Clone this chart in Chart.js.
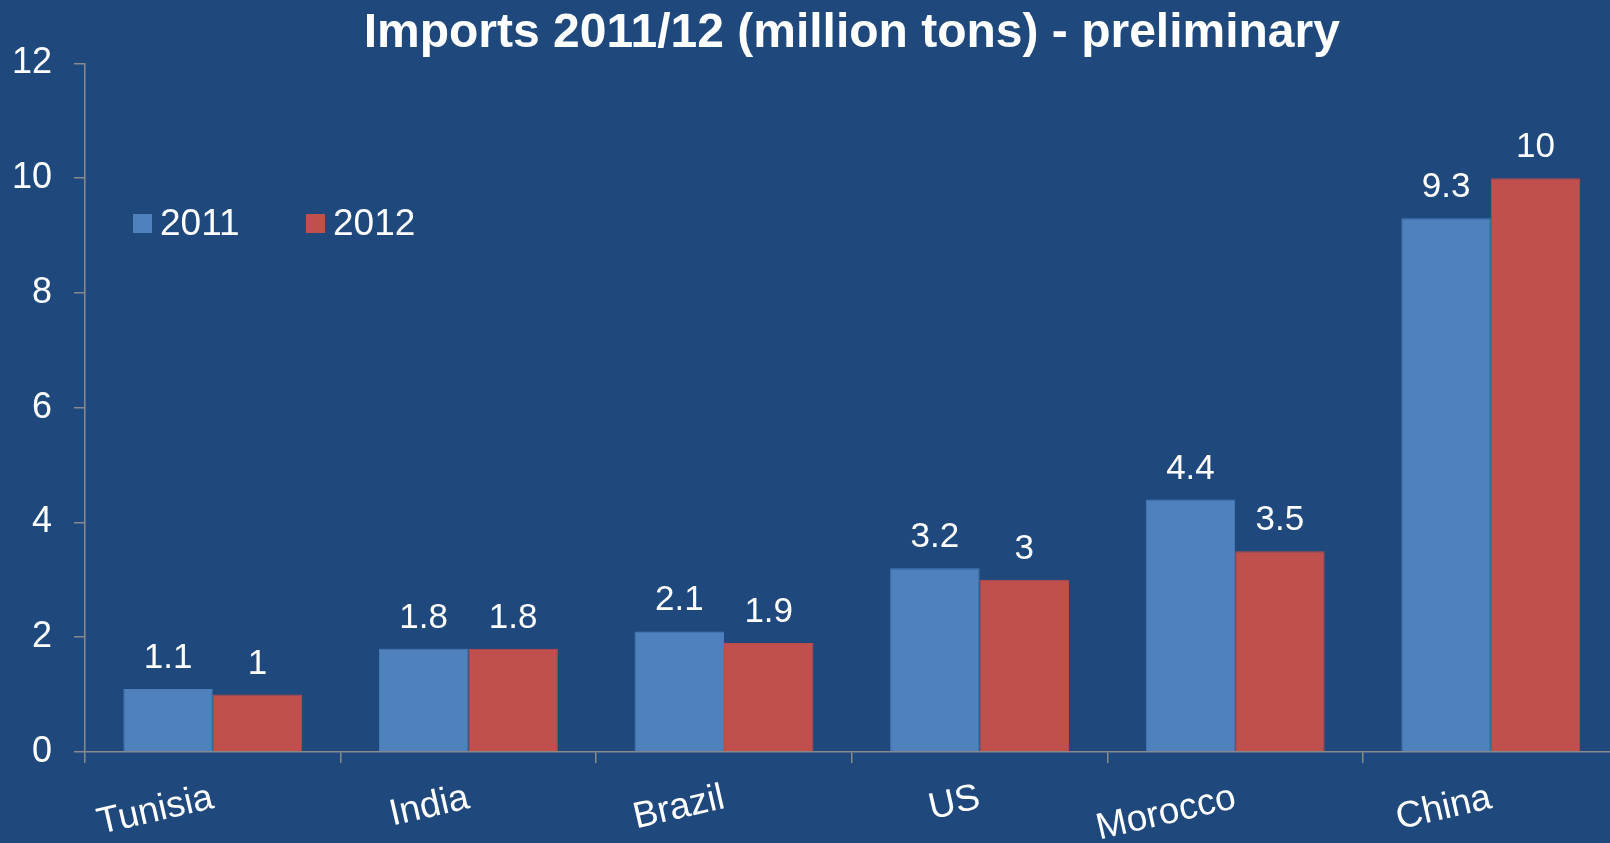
<!DOCTYPE html>
<html>
<head>
<meta charset="utf-8">
<script src="https://cdn.jsdelivr.net/npm/chart.js@4.4.1/dist/chart.umd.min.js"></script>
<style>
  html, body { margin: 0; padding: 0; background: #1F497D; overflow: hidden; width: 1610px; height: 843px; }
  #wrap { position: absolute; left: 0; top: 0; width: 1640px; height: 843px; }
  canvas { display: block; }
</style>
</head>
<body>
<div id="wrap"><canvas id="c" width="1640" height="843"></canvas></div>
<script>
const categories = ["Tunisia", "India", "Brazil", "US", "Morocco", "China"];
const seriesNames = ["2011", "2012"];
const values2011 = [1.1, 1.8, 2.1, 3.2, 4.4, 9.3];
const values2012 = [1, 1.8, 1.9, 3, 3.5, 10];
const yTicks = [0, 2, 4, 6, 8, 10, 12];
const titleText = "Imports 2011/12 (million tons) - preliminary";

const FONT = "'Liberation Sans', Arial, Helvetica, sans-serif";
const AXIS_COLOR = "#8a8a8a";

const valueLabels = {
  id: "valueLabels",
  afterDatasetsDraw(chart) {
    const ctx = chart.ctx;
    ctx.save();
    ctx.fillStyle = "#ffffff";
    ctx.font = "35px " + FONT;
    ctx.textAlign = "center";
    ctx.textBaseline = "alphabetic";
    chart.data.datasets.forEach((ds, i) => {
      const meta = chart.getDatasetMeta(i);
      meta.data.forEach((bar, j) => {
        ctx.fillText(String(ds.data[j]), bar.x, bar.y - 21);
      });
    });
    ctx.restore();
  }
};

const innerLegend = {
  id: "innerLegend",
  afterDatasetsDraw(chart, args, opts) {
    const ctx = chart.ctx;
    ctx.save();
    ctx.font = "37px " + FONT;
    ctx.textBaseline = "middle";
    ctx.textAlign = "left";
    chart.data.datasets.forEach((ds, i) => {
      const x = opts.x[i];
      ctx.fillStyle = ds.backgroundColor;
      ctx.fillRect(x, opts.y, opts.box, opts.box);
      ctx.fillStyle = "#ffffff";
      ctx.fillText(ds.label, x + opts.box + 8, opts.y + opts.box / 2 + 1);
    });
    ctx.restore();
  }
};

new Chart(document.getElementById("c"), {
  type: "bar",
  data: {
    labels: categories,
    datasets: [
      { label: seriesNames[0], data: values2011, backgroundColor: "#4F81BD", borderColor: "#4A7EBB", borderWidth: 1 },
      { label: seriesNames[1], data: values2012, backgroundColor: "#C0504D", borderColor: "#BE4B48", borderWidth: 1 }
    ]
  },
  options: {
    responsive: false,
    animation: false,
    devicePixelRatio: 1,
    layout: { padding: { left: 0, right: 21.4, top: 0, bottom: 0 } },
    datasets: { bar: { categoryPercentage: 0.7, barPercentage: 1.0 } },
    plugins: {
      legend: { display: false },
      tooltip: { enabled: false },
      title: {
        display: true,
        text: titleText,
        fullSize: false,
        color: "#ffffff",
        font: { family: FONT, size: 48, weight: "bold", lineHeight: 1.2 },
        padding: { top: 5, bottom: 0.8 }
      },
      innerLegend: { x: [133, 306], y: 214, box: 19 }
    },
    scales: {
      x: {
        offset: true,
        grid: { display: true, drawOnChartArea: false, drawTicks: true, tickLength: 11, color: AXIS_COLOR, lineWidth: 1.5, offset: true },
        border: { display: true, color: AXIS_COLOR, width: 1.5 },
        ticks: {
          color: "#ffffff",
          font: { family: FONT, size: 37 },
          minRotation: 13, maxRotation: 13,
          autoSkip: false,
          padding: 13
        },
        afterFit(scale) { scale.height = 91; }
      },
      y: {
        min: 0, max: 12,
        afterBuildTicks(scale) { scale.ticks = yTicks.map(v => ({ value: v })); },
        grid: { display: true, drawOnChartArea: false, drawTicks: true, tickLength: 11, color: AXIS_COLOR, lineWidth: 1.5 },
        border: { display: true, color: AXIS_COLOR, width: 1.5 },
        ticks: {
          color: "#ffffff",
          font: { family: FONT, size: 36 },
          padding: 22
        },
        afterFit(scale) { scale.width = 85; }
      }
    }
  },
  plugins: [valueLabels, innerLegend]
});
</script>
</body>
</html>
